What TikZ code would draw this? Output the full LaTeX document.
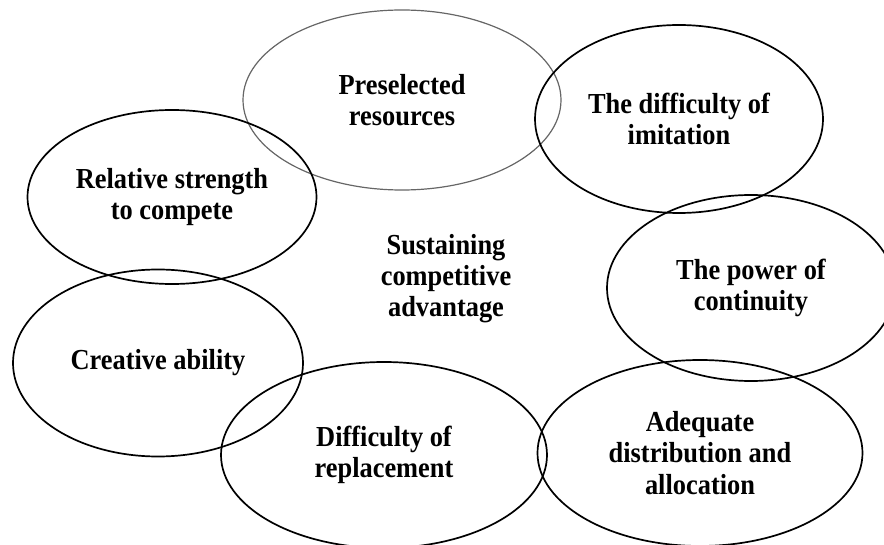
\documentclass[tikz,border=0pt]{standalone}
\usepackage{fontspec}
\setmainfont{Liberation Serif}[FakeStretch=0.91]
\usetikzlibrary{shapes.geometric}
\tikzset{
  oval/.style={ellipse, draw=black, line width=1.7pt, inner sep=0pt, align=center,
    font=\bfseries\fontsize{29}{31.5}\selectfont},
  thinoval/.style={oval, draw=black!60, line width=1.2pt},
  centretext/.style={align=center, inner sep=0pt, font=\bfseries\fontsize{29}{31}\selectfont}
}
\begin{document}
\begin{tikzpicture}[x=1pt,y=1pt]
\useasboundingbox (0,0) rectangle (884,-545);
\node[thinoval, minimum width=318, minimum height=180] (pre) at (402,-100) {Preselected\\resources};
\node[oval, minimum width=288, minimum height=188] (imi) at (679,-119) {The difficulty of\\imitation};
\node[oval, minimum width=289, minimum height=174] (rel) at (172,-197) {Relative strength\\to compete};
\node[oval, minimum width=288, minimum height=186] (pow) at (751,-288) {The power of\\continuity};
\node[oval, minimum width=290, minimum height=187] (cre) at (158,-363) {Creative ability};
\node[oval, minimum width=326, minimum height=186] (rep) at (384,-455) {Difficulty of\\replacement};
\node[oval, minimum width=325, minimum height=186] (ade) at (700,-453) {Adequate\\distribution and\\allocation};
\node[centretext] (sus) at (446,-279) {Sustaining\\competitive\\advantage};
\end{tikzpicture}
\end{document}
